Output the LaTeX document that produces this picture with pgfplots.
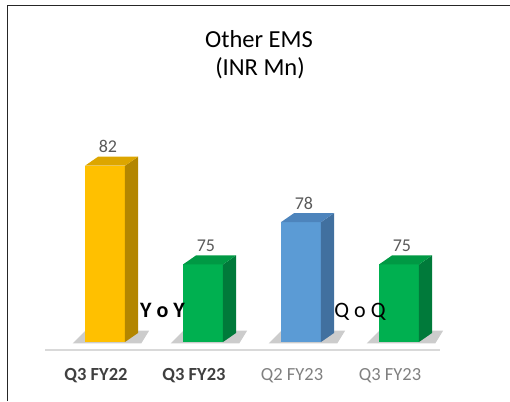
\documentclass[border=0pt]{standalone}
\usepackage{fontspec}
\setmainfont{Carlito}
\usepackage{pgfplots}
\pgfplotsset{compat=1.18}
\definecolor{yfront}{HTML}{FFC000}
\definecolor{yside}{HTML}{B38600}
\definecolor{ytop}{HTML}{DDA600}
\definecolor{gfront}{HTML}{00B050}
\definecolor{gside}{HTML}{007A3A}
\definecolor{gtop}{HTML}{009944}
\definecolor{bfront}{HTML}{5B9BD5}
\definecolor{bside}{HTML}{41709F}
\definecolor{btop}{HTML}{4D84BC}
\definecolor{lab}{HTML}{595959}
\begin{document}
\begin{tikzpicture}[x=1pt,y=1pt]
\path[use as bounding box] (0,0) rectangle (510,401);
\draw[line width=1.5pt, black!85] (7.5,0) -- (7.5,395.5) -- (510,395.5);
\node[font=\fontsize{24.5}{28}\selectfont, anchor=base] at (259,353) {Other EMS};
\node[font=\fontsize{24.5}{28}\selectfont, anchor=base] at (260,325) {(INR Mn)};
\begin{axis}[
  at={(45pt,51pt)}, anchor=south west, scale only axis,
  width=395pt, height=210pt,
  xmin=-0.6122, xmax=3.4184, ymin=68.933, ymax=83.826,
  axis x line=bottom, axis y line=none,
  x axis line style={draw=black!15, line width=1.5pt, -},
  xtick={0,1,2,3}, ytick=\empty, major tick length=0pt,
  xticklabels={{\bfseries\color{black!75}Q3 FY22},{\bfseries\color{black!75}Q3 FY23},{\color{black!50}Q2 FY23},{\color{black!50}Q3 FY23}},
  xticklabel style={font=\fontsize{18.5}{22}\selectfont, yshift=-15pt, xshift=-9pt},
  clip=false,
]
% shadows
\addplot[fill=black, fill opacity=0.2, draw=none] coordinates {(-0.33,69.4) (0.37,69.4) (0.45,70.3) (-0.2,70.3)} -- cycle;
\addplot[fill=black, fill opacity=0.2, draw=none] coordinates {(0.67,69.4) (1.37,69.4) (1.45,70.3) (0.8,70.3)} -- cycle;
\addplot[fill=black, fill opacity=0.2, draw=none] coordinates {(1.67,69.4) (2.37,69.4) (2.45,70.3) (1.8,70.3)} -- cycle;
\addplot[fill=black, fill opacity=0.2, draw=none] coordinates {(2.67,69.4) (3.37,69.4) (3.45,70.3) (2.8,70.3)} -- cycle;
% bar 0 (82)
\addplot[fill=yfront, draw=none] coordinates {(-0.204,69.5) (0.204,69.5) (0.204,82) (-0.204,82)} -- cycle;
\addplot[fill=yside, draw=none] coordinates {(0.204,69.5) (0.337,70.14) (0.337,82.64) (0.204,82)} -- cycle;
\addplot[fill=ytop, draw=none] coordinates {(-0.204,82) (0.204,82) (0.337,82.64) (-0.071,82.64)} -- cycle;
% bar 1 (75)
\addplot[fill=gfront, draw=none] coordinates {(0.796,69.5) (1.204,69.5) (1.204,75) (0.796,75)} -- cycle;
\addplot[fill=gside, draw=none] coordinates {(1.204,69.5) (1.337,70.14) (1.337,75.64) (1.204,75)} -- cycle;
\addplot[fill=gtop, draw=none] coordinates {(0.796,75) (1.204,75) (1.337,75.64) (0.929,75.64)} -- cycle;
% bar 2 (78)
\addplot[fill=bfront, draw=none] coordinates {(1.796,69.5) (2.204,69.5) (2.204,78) (1.796,78)} -- cycle;
\addplot[fill=bside, draw=none] coordinates {(2.204,69.5) (2.337,70.14) (2.337,78.64) (2.204,78)} -- cycle;
\addplot[fill=btop, draw=none] coordinates {(1.796,78) (2.204,78) (2.337,78.64) (1.929,78.64)} -- cycle;
% bar 3 (75)
\addplot[fill=gfront, draw=none] coordinates {(2.796,69.5) (3.204,69.5) (3.204,75) (2.796,75)} -- cycle;
\addplot[fill=gside, draw=none] coordinates {(3.204,69.5) (3.337,70.14) (3.337,75.64) (3.204,75)} -- cycle;
\addplot[fill=gtop, draw=none] coordinates {(2.796,75) (3.204,75) (3.337,75.64) (2.929,75.64)} -- cycle;
% value labels
\addplot[draw=none, mark=none, nodes near coords, point meta=explicit symbolic,
  every node near coord/.style={anchor=base, yshift=4pt, text=lab, font=\fontsize{18}{20}\selectfont}]
  coordinates {(0.03,82.64)[82] (1.03,75.64)[75] (2.03,78.64)[78] (3.03,75.64)[75]};
\node[font=\bfseries\fontsize{22}{24}\selectfont, anchor=base] at (axis cs:0.587,71.27) {Y o Y};
\node[font=\fontsize{22}{24}\selectfont, anchor=base] at (axis cs:2.602,71.27) {Q o Q};
\end{axis}
\end{tikzpicture}
\end{document}
